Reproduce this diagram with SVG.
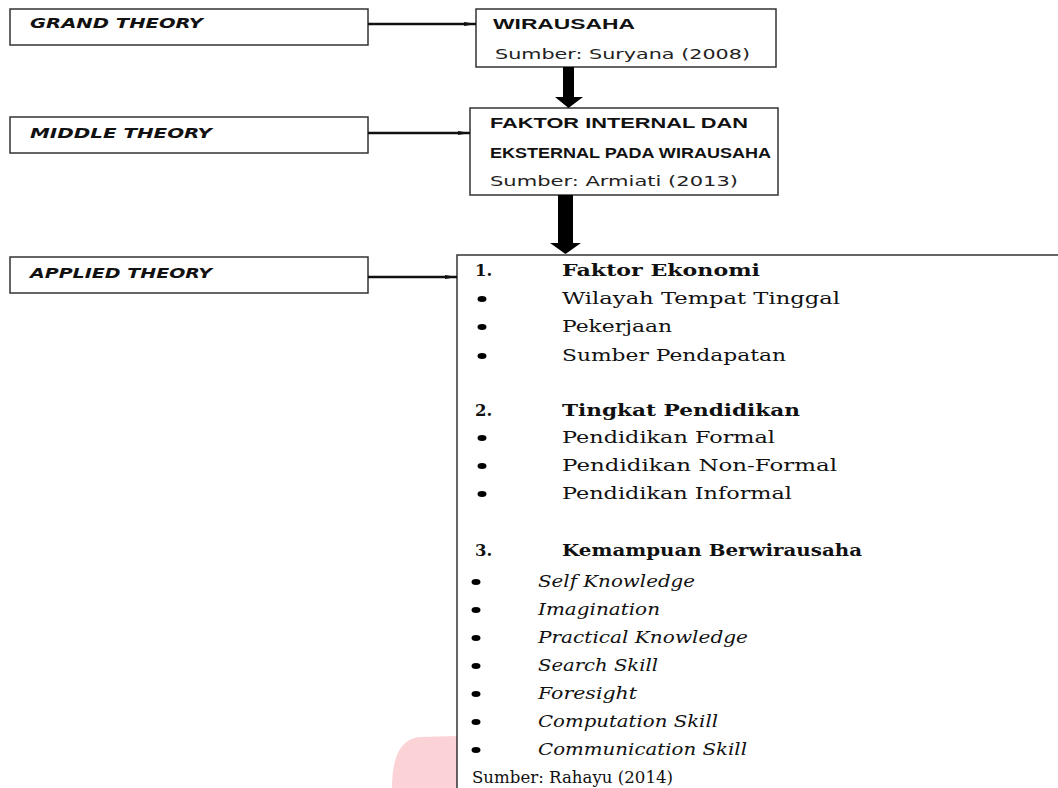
<svg xmlns="http://www.w3.org/2000/svg" width="1058" height="788" viewBox="0 0 1058 788">
<style>
.box{fill:#fff;stroke:#333;stroke-width:1.5}
.lbl{font-family:"DejaVu Sans",sans-serif;font-weight:bold;font-style:italic;font-size:13.5px;fill:#111}
.hd{font-family:"Liberation Sans",Arial,sans-serif;font-weight:bold;font-size:14.5px;fill:#111}
.src{font-family:"DejaVu Sans",sans-serif;font-size:13.5px;fill:#222}
.sr{font-family:"DejaVu Serif",serif;font-size:16.5px;fill:#111}
.srb{font-family:"DejaVu Serif",serif;font-size:16.5px;font-weight:bold;fill:#111}
.sri{font-family:"DejaVu Serif",serif;font-size:16.5px;font-style:italic;fill:#111}
.ln{stroke:#111;stroke-width:2.5;fill:none}
.thick{fill:#000}
</style>
<defs>
<marker id="ah" markerWidth="12" markerHeight="6" refX="12" refY="3" orient="auto" markerUnits="userSpaceOnUse">
<path d="M0,1 L12,3 L0,5 Z" fill="#111"/>
</marker>
</defs>
<path d="M392,788 Q392,739 420,737 L457,736 L457,788 Z" fill="#fbd3d6"/>
<g id="grand-theory">
<rect class="box" x="10" y="9" width="358" height="36"/>
<text class="lbl" x="30" y="28" textLength="173" lengthAdjust="spacingAndGlyphs">GRAND THEORY</text>
</g>
<g id="middle-theory">
<rect class="box" x="10" y="117" width="358" height="36"/>
<text class="lbl" x="30" y="138" textLength="182" lengthAdjust="spacingAndGlyphs">MIDDLE THEORY</text>
</g>
<g id="applied-theory">
<rect class="box" x="10" y="257" width="358" height="36"/>
<text class="lbl" x="30" y="278" textLength="182" lengthAdjust="spacingAndGlyphs">APPLIED THEORY</text>
</g>
<g id="wirausaha">
<rect class="box" x="476" y="9" width="300" height="58"/>
<text class="hd" x="493" y="29" textLength="142" lengthAdjust="spacingAndGlyphs">WIRAUSAHA</text>
<text class="src" x="495" y="59" textLength="255" lengthAdjust="spacingAndGlyphs">Sumber: Suryana (2008)</text>
</g>
<g id="faktor">
<rect class="box" x="470" y="108" width="308" height="87"/>
<text class="hd" x="490" y="128" textLength="258" lengthAdjust="spacingAndGlyphs">FAKTOR INTERNAL DAN</text>
<text class="hd" x="490" y="158" textLength="281" lengthAdjust="spacingAndGlyphs">EKSTERNAL PADA WIRAUSAHA</text>
<text class="src" x="490" y="186" textLength="248" lengthAdjust="spacingAndGlyphs">Sumber: Armiati (2013)</text>
</g>
<g id="applied-content">
<rect class="box" x="457" y="255" width="700" height="600"/>
<text class="srb" x="475" y="276">1.</text>
<text class="srb" x="562" y="276" textLength="198" lengthAdjust="spacingAndGlyphs">Faktor Ekonomi</text>
<ellipse cx="482" cy="299" rx="4.5" ry="3"/>
<text class="sr" x="562" y="304" textLength="278" lengthAdjust="spacingAndGlyphs">Wilayah Tempat Tinggal</text>
<ellipse cx="482" cy="327" rx="4.5" ry="3"/>
<text class="sr" x="562" y="332" textLength="110" lengthAdjust="spacingAndGlyphs">Pekerjaan</text>
<ellipse cx="482" cy="356" rx="4.5" ry="3"/>
<text class="sr" x="562" y="361" textLength="224" lengthAdjust="spacingAndGlyphs">Sumber Pendapatan</text>
<text class="srb" x="475" y="416">2.</text>
<text class="srb" x="562" y="416" textLength="238" lengthAdjust="spacingAndGlyphs">Tingkat Pendidikan</text>
<ellipse cx="482" cy="438" rx="4.5" ry="3"/>
<text class="sr" x="562" y="443" textLength="213" lengthAdjust="spacingAndGlyphs">Pendidikan Formal</text>
<ellipse cx="482" cy="466" rx="4.5" ry="3"/>
<text class="sr" x="562" y="471" textLength="275" lengthAdjust="spacingAndGlyphs">Pendidikan Non-Formal</text>
<ellipse cx="482" cy="494" rx="4.5" ry="3"/>
<text class="sr" x="562" y="499" textLength="230" lengthAdjust="spacingAndGlyphs">Pendidikan Informal</text>
<text class="srb" x="475" y="556">3.</text>
<text class="srb" x="562" y="556" textLength="300" lengthAdjust="spacingAndGlyphs">Kemampuan Berwirausaha</text>
<ellipse cx="476" cy="582" rx="4.5" ry="3"/>
<text class="sri" x="538" y="587" textLength="157" lengthAdjust="spacingAndGlyphs">Self Knowledge</text>
<ellipse cx="476" cy="610" rx="4.5" ry="3"/>
<text class="sri" x="538" y="615" textLength="122" lengthAdjust="spacingAndGlyphs">Imagination</text>
<ellipse cx="476" cy="638" rx="4.5" ry="3"/>
<text class="sri" x="538" y="643" textLength="210" lengthAdjust="spacingAndGlyphs">Practical Knowledge</text>
<ellipse cx="476" cy="666" rx="4.5" ry="3"/>
<text class="sri" x="538" y="671" textLength="120" lengthAdjust="spacingAndGlyphs">Search Skill</text>
<ellipse cx="476" cy="694" rx="4.5" ry="3"/>
<text class="sri" x="538" y="699" textLength="99" lengthAdjust="spacingAndGlyphs">Foresight</text>
<ellipse cx="476" cy="722" rx="4.5" ry="3"/>
<text class="sri" x="538" y="727" textLength="180" lengthAdjust="spacingAndGlyphs">Computation Skill</text>
<ellipse cx="476" cy="750" rx="4.5" ry="3"/>
<text class="sri" x="538" y="755" textLength="209" lengthAdjust="spacingAndGlyphs">Communication Skill</text>
<text class="sr" x="472" y="783" textLength="201" lengthAdjust="spacingAndGlyphs">Sumber: Rahayu (2014)</text>
</g>
<g id="connectors">
<line class="ln" x1="368" y1="24" x2="476" y2="24" marker-end="url(#ah)"/>
<line class="ln" x1="368" y1="133" x2="470" y2="133" marker-end="url(#ah)"/>
<line class="ln" x1="368" y1="277" x2="457" y2="277" marker-end="url(#ah)"/>
<path class="thick" d="M563,67 L574,67 L574,97 L583,97 L568.5,108 L555,97 L563,97 Z"/>
<path class="thick" d="M558,195 L573,195 L573,243 L581,243 L565.5,254 L550,243 L558,243 Z"/>
</g>
</svg>
